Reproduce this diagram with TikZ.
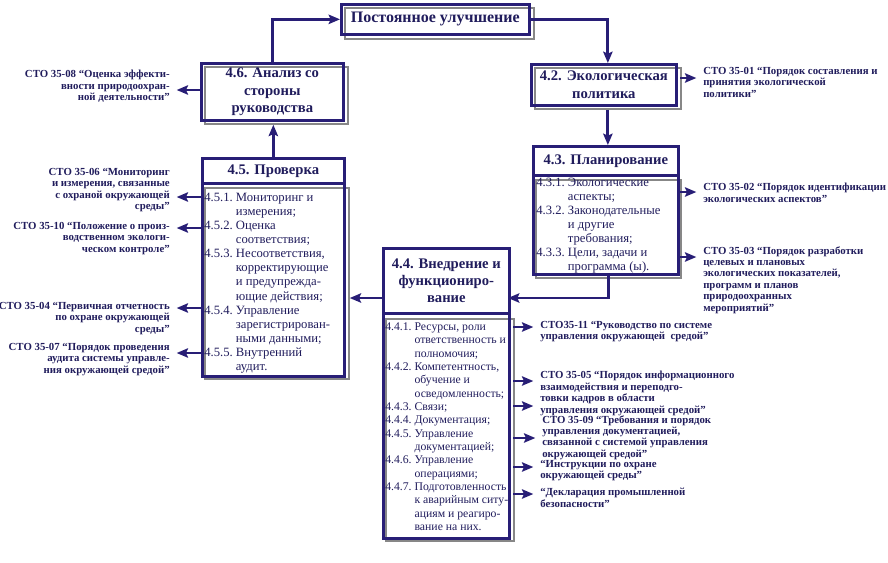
\documentclass[tikz,border=0pt]{standalone}
\usepackage{fontspec}
\setmainfont{Liberation Serif}
\usetikzlibrary{arrows.meta, positioning, calc}
\definecolor{navyline}{RGB}{40,30,118}
\definecolor{navyink}{RGB}{32,28,92}
\definecolor{shadegray}{RGB}{135,135,135}
\tikzset{
  mainbox/.style 2 args={
    rectangle, draw=navyline, line width=2pt, anchor=north west,
    minimum width=#1*0.75pt, minimum height=#2*0.75pt, inner sep=0pt,
    align=center, text=navyink, font=\fontsize{11}{13}\selectfont\bfseries
  },
  shadebox/.style 2 args={
    rectangle, draw=shadegray, line width=1.3pt, anchor=north west,
    minimum width=#1*0.75pt, minimum height=#2*0.75pt, inner sep=0pt
  },
  listtext/.style={
    anchor=north west, inner sep=0pt, text=navyink,
    font=\fontsize{9.5}{10.6}\selectfont
  },
  stoleft/.style={
    anchor=north east, inner sep=0pt, align=right, text=navyink,
    font=\fontsize{8.1}{8.6}\selectfont\bfseries
  },
  storight/.style={
    anchor=north west, inner sep=0pt, align=left, text=navyink,
    font=\fontsize{8.1}{8.6}\selectfont\bfseries
  },
  link/.style={-{Stealth[length=8.5pt,width=7pt,inset=1.5pt]}, line width=2.2pt, draw=navyline},
  tie/.style={link, shorten >=5pt}
}

\begin{document}
\begin{tikzpicture}[x=0.75pt, y=-0.75pt]
\useasboundingbox (0,0) rectangle (888,562);

% Постоянное улучшение
\node[shadebox={189}{31}] (stop) at (344,7) {};
\node[mainbox={188}{30}, font=\fontsize{12}{15}\selectfont\bfseries] (top) at (340,3) {Постоянное улучшение};

% 4.6
\node[shadebox={143}{57}] (s46) at (204,66) {};
\node[mainbox={142}{57}] (n46) at (200,62) {4.6. Анализ со\\стороны\\руководства};

% 4.2
\node[shadebox={146}{41}] (s42) at (534,67) {};
\node[mainbox={145}{41}, font=\fontsize{11}{13.5}\selectfont\bfseries] (n42) at (530,63) {4.2. Экологическая\\политика};

% 4.5
\node[mainbox={142}{25}] (n45) at (201,157) {4.5. Проверка};
\node[shadebox={144}{191}] (g45) at (204,187) {};
\node[mainbox={142}{193}] (c45) at (201,182) {};
\node[listtext] (t45) at (204,191) {%
\begin{tabular}{@{}l@{\ }l@{}}
4.5.1. & Мониторинг и\\
       & измерения;\\
4.5.2. & Оценка\\
       & соответствия;\\
4.5.3. & Несоответствия,\\
       & корректирующие\\
       & и предупрежда-\\
       & ющие действия;\\
4.5.4. & Управление\\
       & зарегистрирован-\\
       & ными данными;\\
4.5.5. & Внутренний\\
       & аудит.
\end{tabular}};

% 4.3
\node[mainbox={145}{29}] (n43) at (532,145) {4.3. Планирование};
\node[shadebox={145}{98}] (s43) at (535,179) {};
\node[mainbox={145}{99}] (c43) at (532,174) {};
\node[listtext] (t43) at (536,176) {%
\begin{tabular}{@{}l@{\ }l@{}}
4.3.1. & Экологические\\
       & аспекты;\\
4.3.2. & Законодательные\\
       & и другие\\
       & требования;\\
4.3.3. & Цели, задачи и\\
       & программа (ы).
\end{tabular}};

% 4.4
\node[mainbox={126}{65}, font=\fontsize{11}{12.75}\selectfont\bfseries] (n44) at (382,247) {4.4. Внедрение и\\функциониро-\\вание};
\node[shadebox={128}{222}] (g44) at (385,318) {};
\node[mainbox={126}{225}] (c44) at (382,312) {};
\node[listtext, font=\fontsize{8.8}{10}\selectfont] (t44) at (385,321) {%
\begin{tabular}{@{}l@{\ }l@{}}
4.4.1. & Ресурсы, роли\\
       & ответственность и\\
       & полномочия;\\
4.4.2. & Компетентность,\\
       & обучение и\\
       & осведомленность;\\
4.4.3. & Связи;\\
4.4.4. & Документация;\\
4.4.5. & Управление\\
       & документацией;\\
4.4.6. & Управление\\
       & операциями;\\
4.4.7. & Подготовленность\\
       & к аварийным ситу-\\
       & ациям и реагиро-\\
       & вание на них.
\end{tabular}};

% связи между блоками
\coordinate (j44) at (508,298);
\draw[link] (n46.north) |- (top.west);
\draw[link] (top.east) -| (n42.north -| s42.north);
\draw[link] (s42.south) -- (s42.south |- n43.north);
\draw[link] (c43.south -| s43.south) |- (j44);
\draw[link] (n44.west |- j44) -- (g45.east |- j44);
\draw[link] (n45.north) -- (n45.north |- s46.south);

% стандарты слева
\node[stoleft] (l08) at (170,70) {СТО 35-08 “Оценка эффекти-\\вности природоохран-\\ной деятельности”};
\node[stoleft] (l06) at (170,168) {СТО 35-06 “Мониторинг\\и измерения, связанные\\с охраной окружающей\\среды”};
\node[stoleft] (l10) at (170,222) {СТО 35-10 “Положение о произ-\\водственном экологи-\\ческом контроле”};
\node[stoleft] (l04) at (170,302) {СТО 35-04 “Первичная отчетность\\по охране окружающей\\среды”};
\node[stoleft] (l07) at (170,343) {СТО 35-07 “Порядок проведения\\аудита системы управле-\\ния окружающей средой”};

\coordinate (o08) at (200,90);
\coordinate (o06) at (201,197);
\coordinate (o10) at (201,228);
\coordinate (o04) at (201,308);
\coordinate (o07) at (201,353);
\draw[tie] (o08) -- (o08 -| l08.east);
\draw[tie] (o06) -- (o06 -| l06.east);
\draw[tie] (o10) -- (o10 -| l10.east);
\draw[tie] (o04) -- (o04 -| l04.east);
\draw[tie] (o07) -- (o07 -| l07.east);

% стандарты справа
\node[storight] (l01) at (703,67) {СТО 35-01 “Порядок составления и\\принятия экологической\\политики”};
\node[storight] (l02) at (703,183) {СТО 35-02 “Порядок идентификации\\экологических аспектов”};
\node[storight] (l03) at (703,246) {СТО 35-03 “Порядок разработки\\целевых и плановых\\экологических показателей,\\программ и планов\\природоохранных\\мероприятий”};
\node[storight] (l11) at (540,321) {СТО35-11 “Руководство по системе\\управления окружающей \ средой”};
\node[storight] (l05) at (540,371) {СТО 35-05 “Порядок информационного\\взаимодействия и переподго-\\товки кадров в области\\управления окружающей средой”};
\node[storight] (l09) at (542,415) {СТО 35-09 “Требования и порядок\\управления документацией,\\связанной с системой управления\\окружающей средой”};
\node[storight] (lins) at (540,460) {“Инструкции по охране\\окружающей среды”};
\node[storight] (ldec) at (540,488) {“Декларация промышленной\\безопасности”};

\coordinate (o01) at (680,78);
\coordinate (o02) at (680,192);
\coordinate (o03) at (680,257);
\coordinate (o11) at (513,327);
\coordinate (o05a) at (513,381);
\coordinate (o05b) at (513,406);
\coordinate (o09) at (513,438);
\coordinate (oins) at (513,467);
\coordinate (odec) at (513,494);
\draw[tie] (o01) -- (o01 -| l01.west);
\draw[tie] (o02) -- (o02 -| l02.west);
\draw[tie] (o03) -- (o03 -| l03.west);
\draw[tie] (o11) -- (o11 -| l11.west);
\draw[tie] (o05a) -- (o05a -| l05.west);
\draw[tie] (o05b) -- (o05b -| l05.west);
\draw[tie] (o09) -- (o09 -| l09.west);
\draw[tie] (oins) -- (oins -| lins.west);
\draw[tie] (odec) -- (odec -| ldec.west);

\end{tikzpicture}
\end{document}
